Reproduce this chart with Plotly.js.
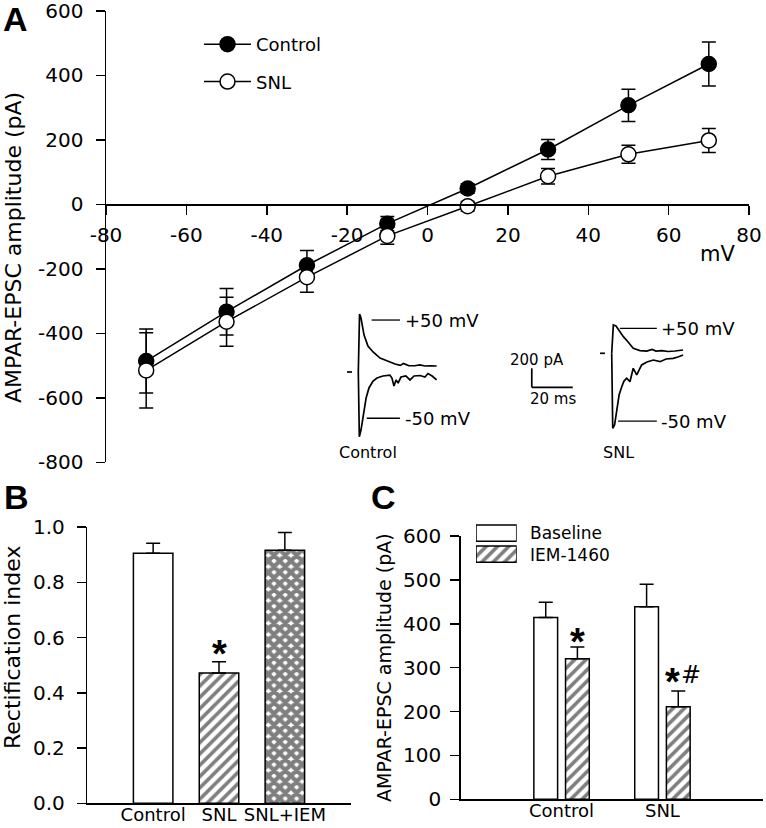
<!DOCTYPE html>
<html>
<head>
<meta charset="utf-8">
<script src="https://cdn.plot.ly/plotly-3.0.1.min.js"></script>
<style>html,body{margin:0;padding:0;background:#fff;}#chart{width:766px;height:828px;}</style>
</head>
<body>
<div id="chart"></div>
<script>
// ---------- Panel A: I-V relation ----------
const voltages = [-70, -50, -30, -10, 10, 30, 50, 70];
const controlAmp = [-486, -333, -189, -60, 49, 170, 307, 435];
const controlErr = [99, 72, 46, 22, 15, 31, 50, 68];
const snlAmp = [-515, -364, -226, -98, -6, 87, 155, 198];
const snlErr = [117, 76, 47, 26, 15, 24, 28, 37];
const xTicksA = [-80, -60, -40, -20, 0, 20, 40, 60, 80];
const xTickTextA = ['-80', '-60', '-40', '-20', '0', '20', '40', '60', '80'];
const yTicksA = [-800, -600, -400, -200, 0, 200, 400, 600];
const yTickTextA = ['-800', '-600', '-400', '-200', '0', '200', '400', '600'];

// ---------- Inset example traces (time in ms, current in pA) ----------
const ctrlPosT  = [0, 0.6, 1.3, 2.8, 4.7, 7.2, 10.6, 14.0, 17.9, 20.5, 22.0, 24.5, 27.6, 30.0, 32.5, 35.5, 38.2];
const ctrlPosI  = [0, 610, 568, 389, 274, 211, 147, 116, 84, 70, 90, 68, 66, 75, 63, 66, 63];
const ctrlNegT  = [0, 0.5, 1.3, 2.3, 3.8, 5.2, 7.2, 9.1, 12.0, 15.4, 16.4, 17.4, 18.4, 19.4, 20.8, 23.2, 25.2, 27.2, 30.1, 32.5, 34.0, 36.0, 38.2];
const ctrlNegI  = [0, -681, -611, -471, -274, -168, -95, -63, -42, -32, -63, -147, -84, -116, -53, -42, -84, -42, -37, -53, -16, -42, -84];
const snlPosT   = [0, 0.8, 2.1, 4.0, 5.7, 8.0, 10.5, 13.8, 17.1, 19.7, 21.6, 24.5, 27.5, 30.9, 33.3, 34.8];
const snlPosI   = [0, 298, 287, 224, 175, 119, 53, 29, 24, 40, 24, 29, 19, 24, 35, 35];
const snlNegT   = [0, 0.5, 1.4, 2.4, 3.6, 4.9, 6.0, 7.3, 8.9, 10.5, 12.2, 14.6, 17.2, 20.3, 23.6, 26.5, 30.0, 32.3, 34.8];
const snlNegI   = [0, -789, -755, -597, -439, -352, -292, -263, -299, -158, -228, -123, -92, -71, -88, -60, -53, -39, -18];

// ---------- Panel B: rectification index ----------
const groupsB = ['Control', 'SNL', 'SNL+IEM'];
const rectIndex = [0.905, 0.472, 0.916];
const rectErr = [0.036, 0.040, 0.064];
const yTicksB = [0, 0.2, 0.4, 0.6, 0.8, 1.0];

// ---------- Panel C: AMPAR-EPSC amplitude, baseline vs IEM-1460 ----------
const groupsC = ['Control', 'SNL'];
const baselineAmp = [414, 439];
const baselineErr = [35, 51];
const iemAmp = [320, 211];
const iemErr = [27, 36];
const yTicksC = [0, 100, 200, 300, 400, 500, 600];
const legendC = ['Baseline', 'IEM-1460'];

// ---------- helpers for layout placement (pixel -> paper) ----------
const W = 766, H = 828;
const px = v => v / W;
const py = v => 1 - v / H;
const FONT = 'DejaVu Sans, Verdana, sans-serif';
const BOLD = 'Liberation Sans, Arial, sans-serif';

const errStyle = {color: 'black', thickness: 1.5, width: 7};
const traces = [];

// Panel A
traces.push({
  type: 'scatter', mode: 'lines+markers', name: 'Control',
  x: voltages, y: controlAmp, xaxis: 'x', yaxis: 'y',
  line: {color: 'black', width: 1.5},
  marker: {symbol: 'circle', size: 15, color: 'black', line: {color: 'black', width: 1.5}},
  error_y: Object.assign({type: 'data', array: controlErr, visible: true}, errStyle),
  legendgroup: 'ctrl'
});
traces.push({
  type: 'scatter', mode: 'lines+markers', name: 'SNL',
  x: voltages, y: snlAmp, xaxis: 'x', yaxis: 'y',
  line: {color: 'black', width: 1.5},
  marker: {symbol: 'circle', size: 15, color: 'white', line: {color: 'black', width: 1.5}},
  error_y: Object.assign({type: 'data', array: snlErr, visible: true}, errStyle),
  legendgroup: 'snl'
});

// Insets
const inset = (x, y, xa, ya) => ({type: 'scatter', mode: 'lines', x: x, y: y, xaxis: xa, yaxis: ya,
  line: {color: 'black', width: 1.7}, showlegend: false, hoverinfo: 'skip'});
traces.push(inset(ctrlPosT, ctrlPosI, 'x4', 'y4'));
traces.push(inset(ctrlNegT, ctrlNegI, 'x4', 'y4'));
traces.push(inset(snlPosT, snlPosI, 'x5', 'y5'));
traces.push(inset(snlNegT, snlNegI, 'x5', 'y5'));

// Panel B
traces.push({
  type: 'bar', x: groupsB, y: rectIndex, xaxis: 'x2', yaxis: 'y2', width: 0.6, showlegend: false,
  marker: {
    color: 'white', line: {color: 'black', width: 1.5},
    pattern: {shape: ['', '/', 'x'], size: [8, 8, 8], solidity: [0.3, 0.45, 0.78], fgcolor: 'black', bgcolor: 'white', fillmode: 'overlay'}
  },
  error_y: Object.assign({type: 'data', array: rectErr, arrayminus: [0, 0, 0], symmetric: false, visible: true}, errStyle)
});

// Panel C
traces.push({
  type: 'bar', name: 'Baseline', x: groupsC, y: baselineAmp, xaxis: 'x3', yaxis: 'y3', showlegend: false,
  marker: {color: 'white', line: {color: 'black', width: 1.5}},
  error_y: Object.assign({type: 'data', array: baselineErr, arrayminus: [0, 0], symmetric: false, visible: true}, errStyle)
});
traces.push({
  type: 'bar', name: 'IEM-1460', x: groupsC, y: iemAmp, xaxis: 'x3', yaxis: 'y3', showlegend: false,
  marker: {color: 'white', line: {color: 'black', width: 1.5},
    pattern: {shape: '/', size: 8, solidity: 0.45, fgcolor: 'black', bgcolor: 'white', fillmode: 'overlay'}},
  error_y: Object.assign({type: 'data', array: iemErr, arrayminus: [0, 0], symmetric: false, visible: true}, errStyle)
});

// Panel C legend swatches (drawn as bars on a small hidden axis)
traces.push({
  type: 'bar', orientation: 'h', x: [1, 1], y: [1, 0], base: [0, 0], width: 0.77, xaxis: 'x6', yaxis: 'y6', showlegend: false,
  hoverinfo: 'skip',
  marker: {color: 'white', line: {color: 'black', width: 1.5},
    pattern: {shape: ['', '/'], size: 8, solidity: 0.45, fgcolor: 'black', bgcolor: 'white', fillmode: 'overlay'}}
});

const axisCommon = {
  showgrid: false, zeroline: false, showline: true, linecolor: 'black', linewidth: 1.5,
  ticks: 'outside', ticklen: 9, tickwidth: 1.5, tickcolor: 'black', automargin: false,
  ticklabeloverflow: 'allow',
  tickfont: {family: FONT, size: 20, color: 'black'}, fixedrange: true
};
const hidden = {visible: false, fixedrange: true, showgrid: false, zeroline: false, automargin: false};
const ann = (text, x, y, size, extra) => Object.assign({text: text, xref: 'paper', yref: 'paper', x: px(x), y: py(y),
  xanchor: 'center', yanchor: 'middle', showarrow: false, font: {family: FONT, size: size, color: 'black'}}, extra || {});

const layout = {
  width: W, height: H, margin: {l: 0, r: 0, t: 0, b: 0, autoexpand: false},
  paper_bgcolor: 'white', plot_bgcolor: 'rgba(0,0,0,0)',
  font: {family: FONT, color: 'black'},
  bargap: 0.372, bargroupgap: 0.25, barmode: 'group',
  showlegend: true,
  legend: {x: px(199), y: py(26), xanchor: 'left', yanchor: 'top', bgcolor: 'rgba(0,0,0,0)',
    font: {family: FONT, size: 18, color: 'black'}, itemwidth: 47, tracegroupgap: 11, traceorder: 'grouped'},
  xaxis: Object.assign({}, axisCommon, {domain: [px(106), px(749)], range: [-80, 80], tickvals: xTicksA, ticktext: xTickTextA,
    anchor: 'free', position: py(204.3), ticklabelstandoff: 3}),
  yaxis: Object.assign({}, axisCommon, {domain: [py(462.3), py(10.8)], range: [-800, 600], tickvals: yTicksA, ticktext: yTickTextA,
    anchor: 'x', ticklabelstandoff: 8}),
  xaxis2: Object.assign({}, axisCommon, {domain: [px(87.3), px(350.7)], range: [-1, 3], type: 'category',
    ticks: '', anchor: 'y2', ticklabelstandoff: -5, tickfont: {family: FONT, size: 18, color: 'black'}}),
  yaxis2: Object.assign({}, axisCommon, {domain: [py(803.3), py(527)], range: [0, 1.0], tickvals: yTicksB,
    tickformat: '.1f', anchor: 'x2', ticklabelstandoff: 8}),
  xaxis3: Object.assign({}, axisCommon, {domain: [px(460.7), px(763.3)], range: [-1, 2], type: 'category',
    ticks: '', anchor: 'y3', ticklabelstandoff: -5, tickfont: {family: FONT, size: 18, color: 'black'}}),
  yaxis3: Object.assign({}, axisCommon, {domain: [py(799.3), py(536)], range: [0, 600], tickvals: yTicksC,
    anchor: 'x3', ticklabelstandoff: 5,
    title: {text: 'AMPAR-EPSC amplitude (pA)', font: {family: FONT, size: 19, color: 'black'}, standoff: 6}}),
  xaxis4: Object.assign({}, hidden, {domain: [px(340), px(590)], range: [-8.93, 113.0], anchor: 'y4'}),
  yaxis4: Object.assign({}, hidden, {domain: [py(460), py(300)], range: [-926.3, 757.9], anchor: 'x4'}),
  xaxis5: Object.assign({}, hidden, {domain: [px(590), px(700)], range: [-10.59, 43.07], anchor: 'y5'}),
  yaxis5: Object.assign({}, hidden, {domain: [py(460), py(300)], range: [-1123.2, 561], anchor: 'x5'}),
  xaxis6: Object.assign({}, hidden, {domain: [px(476), px(516.7)], range: [0, 1], anchor: 'y6'}),
  yaxis6: Object.assign({}, hidden, {domain: [py(564.6), py(522.7)], range: [-0.5, 1.5], anchor: 'x6'}),
  shapes: [
    // inset baseline marks and label lines (control)
    {type: 'line', xref: 'x4', yref: 'y4', x0: -5.5, x1: -3.1, y0: 0, y1: 0, line: {color: 'black', width: 1.7}},
    {type: 'line', xref: 'x4', yref: 'y4', x0: 6.5, x1: 20.3, y0: 547, y1: 547, line: {color: 'black', width: 1.3}},
    {type: 'line', xref: 'x4', yref: 'y4', x0: 4.1, x1: 20.3, y0: -487, y1: -487, line: {color: 'black', width: 1.3}},
    // scale bar: 200 pA / 20 ms
    {type: 'line', xref: 'x4', yref: 'y4', x0: 84.6, x1: 84.6, y0: -161, y1: 39, line: {color: 'black', width: 1.7}},
    {type: 'line', xref: 'x4', yref: 'y4', x0: 84.6, x1: 104.6, y0: -161, y1: -161, line: {color: 'black', width: 1.7}},
    // SNL inset
    {type: 'line', xref: 'x5', yref: 'y5', x0: -5.7, x1: -3.3, y0: 0, y1: 0, line: {color: 'black', width: 1.7}},
    {type: 'line', xref: 'x5', yref: 'y5', x0: 4.0, x1: 22.0, y0: 263, y1: 263, line: {color: 'black', width: 1.3}},
    {type: 'line', xref: 'x5', yref: 'y5', x0: 3.1, x1: 22.0, y0: -713, y1: -713, line: {color: 'black', width: 1.3}}
  ],
  annotations: [
    // y-axis titles of panels A and B (placed as rotated text to match the source placement)
    ann('AMPAR-EPSC amplitude (pA)', 13, 248, 22, {textangle: -90}),
    ann('Rectification index', 12, 648, 22, {textangle: -90}),
    ann('<b>A</b>', 15, 19, 34, {font: {family: BOLD, size: 34, color: 'black'}}),
    ann('<b>B</b>', 16, 497, 34, {font: {family: BOLD, size: 34, color: 'black'}}),
    ann('<b>C</b>', 383, 497, 34, {font: {family: BOLD, size: 34, color: 'black'}}),
    ann('mV', 717, 254, 21),
    {text: '+50 mV', xref: 'x4', yref: 'y4', x: 21.6, y: 547, xanchor: 'left', yanchor: 'middle', showarrow: false, font: {family: FONT, size: 18, color: 'black'}},
    {text: '-50 mV', xref: 'x4', yref: 'y4', x: 21.6, y: -487, xanchor: 'left', yanchor: 'middle', showarrow: false, font: {family: FONT, size: 18, color: 'black'}},
    {text: '+50 mV', xref: 'x5', yref: 'y5', x: 23.3, y: 263, xanchor: 'left', yanchor: 'middle', showarrow: false, font: {family: FONT, size: 18, color: 'black'}},
    {text: '-50 mV', xref: 'x5', yref: 'y5', x: 23.3, y: -713, xanchor: 'left', yanchor: 'middle', showarrow: false, font: {family: FONT, size: 18, color: 'black'}},
    {text: '200 pA', xref: 'x4', yref: 'y4', x: 87.0, y: 126, xanchor: 'center', yanchor: 'middle', showarrow: false, font: {family: FONT, size: 15, color: 'black'}},
    {text: '20 ms', xref: 'x4', yref: 'y4', x: 95.0, y: -279, xanchor: 'center', yanchor: 'middle', showarrow: false, font: {family: FONT, size: 15, color: 'black'}},
    ann('Control', 368, 452, 16),
    ann('SNL', 618, 452, 16),
    ann('<b>*</b>', 219, 654, 38, {font: {family: BOLD, size: 38, color: 'black'}}),
    ann('<b>*</b>', 577.5, 642, 38, {font: {family: BOLD, size: 38, color: 'black'}}),
    ann('<b>*</b>', 672.5, 682, 38, {font: {family: BOLD, size: 38, color: 'black'}}),
    ann('#', 691, 675, 24),
    ann(legendC[0] + '<br>' + legendC[1], 528, 543.5, 17, {xanchor: 'left', align: 'left'})
  ]
};

Plotly.newPlot('chart', traces, layout, {staticPlot: true, displayModeBar: false});
</script>
</body>
</html>
